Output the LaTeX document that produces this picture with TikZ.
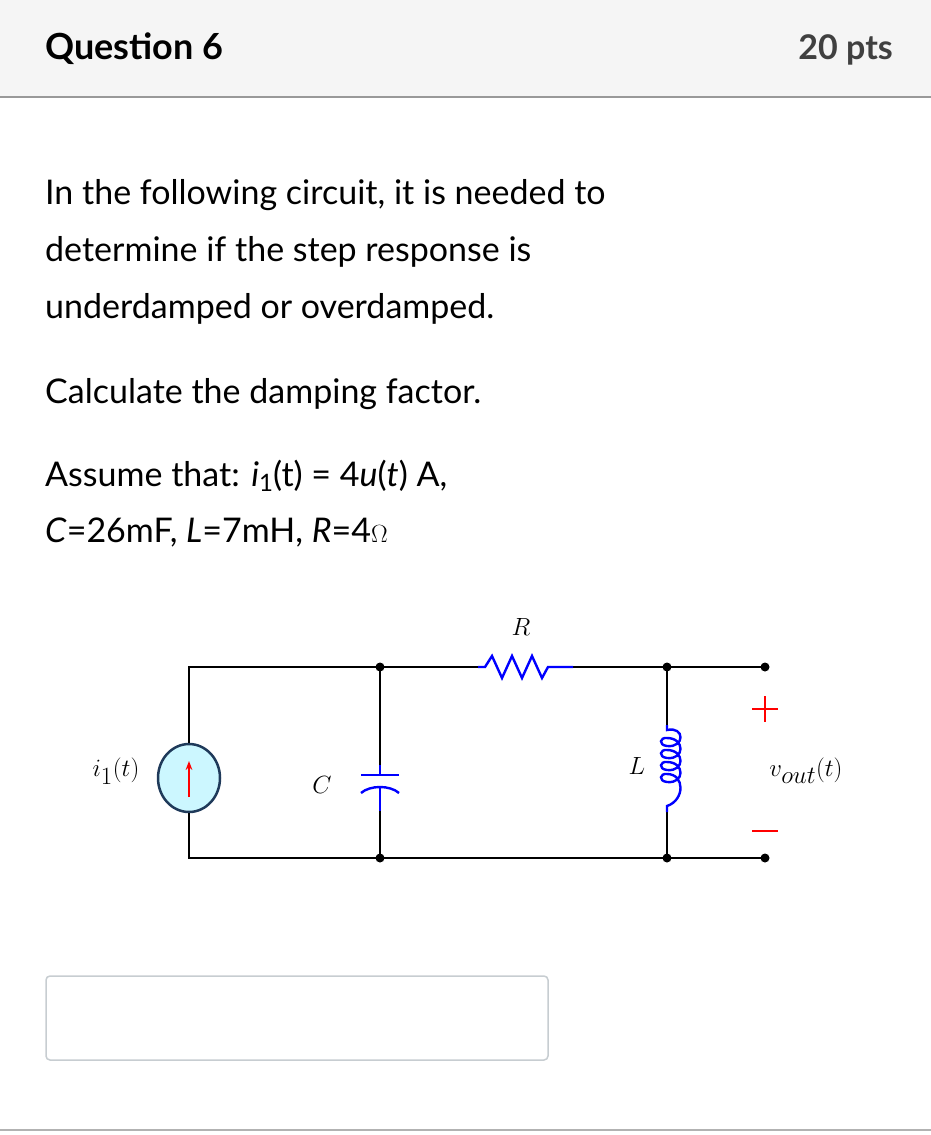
\documentclass[tikz,border=0pt]{standalone}
\usepackage{fontspec}
\setmainfont{Lato}
\usetikzlibrary{decorations.pathmorphing,shapes.geometric,arrows.meta}
\definecolor{hdr}{HTML}{F5F5F5}
\definecolor{rl}{HTML}{C7CDD1}
\definecolor{src}{HTML}{CCF7FF}
\definecolor{srcb}{HTML}{1F3A5A}
\begin{document}
\begin{tikzpicture}[x=1pt,y=-1pt,
  txt/.style={anchor=base west,inner sep=0,font=\fontsize{34}{40}\selectfont},
  wire/.style={line width=2.6pt},
  comp/.style={blue,line width=2.4pt},
  dot/.style={circle,fill=black,inner sep=0,minimum size=9pt},
  lab/.style={font=\fontsize{34}{40}\selectfont}]
\useasboundingbox (0,0) rectangle (931,1135);
\fill[hdr] (0,0) rectangle (931,97);
\draw[gray!80,line width=1.5pt] (0,97) -- (931,97);
\node[anchor=base west,inner sep=0,font=\fontsize{36}{40}\selectfont\bfseries] (q) at (45,59) {Question 6};
\node[anchor=base east,inner sep=0,font=\fontsize{34}{40}\selectfont\bfseries,text=black!75] (p) at (893,59) {20 pts};
\node[txt] (t1) at (45,204) {In the following circuit, it is needed to};
\node[txt] (t2) at (45,261) {determine if the step response is};
\node[txt] (t3) at (45,318) {underdamped or overdamped.};
\node[txt] (t4) at (45,403) {Calculate the damping factor.};
\node[txt] (t5) at (45,486) {Assume that: \textit{i}\raisebox{-5pt}{\fontsize{24}{24}\selectfont 1}(t) = 4\textit{u}(\textit{t}) A,};
\node[txt] (t6) at (45,542) {\textit{C}=26mF, \textit{L}=7mH, \textit{R}=4$\Omega$};
% answer box
\draw[rl,line width=1.5pt,rounded corners=4pt,fill=white] (46,976) rectangle (548,1060);
\draw[gray!60,line width=1.5pt] (0,1130) -- (931,1130);
% circuit coordinates
\coordinate (A) at (189,667); \coordinate (B) at (380,667); \coordinate (Rl) at (478,667);
\coordinate (Rr) at (573,667); \coordinate (D) at (667,667); \coordinate (T1) at (765,667);
\coordinate (E) at (189,858); \coordinate (F) at (380,858); \coordinate (G) at (667,858); \coordinate (T2) at (765,858);
\coordinate (Ct) at (380,775); \coordinate (Cb) at (380,788);
\coordinate (Lt) at (667,725); \coordinate (Lb) at (667,812);
\node[draw=srcb,fill=src,ellipse,line width=2.5pt,minimum width=62pt,minimum height=68pt,inner sep=0] (S) at (189,778) {};
\draw[wire] (S.north) -- (A) -- (B) -- (Rl);
\draw[wire] (Rr) -- (D) -- (T1);
\draw[wire] (S.south) -- (E) -- (F) -- (G) -- (T2);
\draw[wire] (B) -- (380,765); \draw[wire] (F) -- (380,811);
\draw[wire] (D) -- (Lt); \draw[wire] (G) -- (Lb);
\draw[red,line width=2pt,-{Stealth[length=9pt]}] (189,797) -- (189,761);
% resistor
\draw[comp,line join=miter] (Rl) -- (485,667) -- (492,656) -- (502,678) -- (512,656) -- (522,678) -- (532,656) -- (542,678) -- (548,667) -- (Rr);
% capacitor
\draw[comp] (380,765) -- (Ct); \draw[comp] (361,775) -- (399,775);
\draw[comp] (361,793) .. controls (370,785) and (390,785) .. (399,793);
\draw[comp] (380,787) -- (380,811);
% inductor
\draw[comp] (Lt) -- (667,730)
  .. controls (685,726) and (685,748) .. (667,746) .. controls (658,745) and (660,737) .. (667,738)
  .. controls (685,738) and (685,760) .. (667,758) .. controls (658,757) and (660,749) .. (667,750)
  .. controls (685,750) and (685,772) .. (667,770) .. controls (658,769) and (660,761) .. (667,762)
  .. controls (685,762) and (685,784) .. (667,782) .. controls (658,781) and (660,773) .. (667,774)
  .. controls (685,774) and (685,800) .. (667,806) -- (Lb);
\foreach \p in {B,D,F,G,T1,T2} \node[dot] at (\p) {};
% labels
\node[lab] (lR) at (521,627) {$R$};
\node[lab] (lC) at (322,785) {$C$};
\node[lab] (lL) at (637,766) {$L$};
\node[lab] (li) at (116,771) {$i_1(t)$};
\node[lab] (lv) at (806,771) {$v_{out}(t)$};
\draw[red,line width=2.5pt] (765,696) -- (765,722) (752,709) -- (778,709);
\draw[red,line width=2.5pt] (752,831) -- (778,831);
\end{tikzpicture}
\end{document}
